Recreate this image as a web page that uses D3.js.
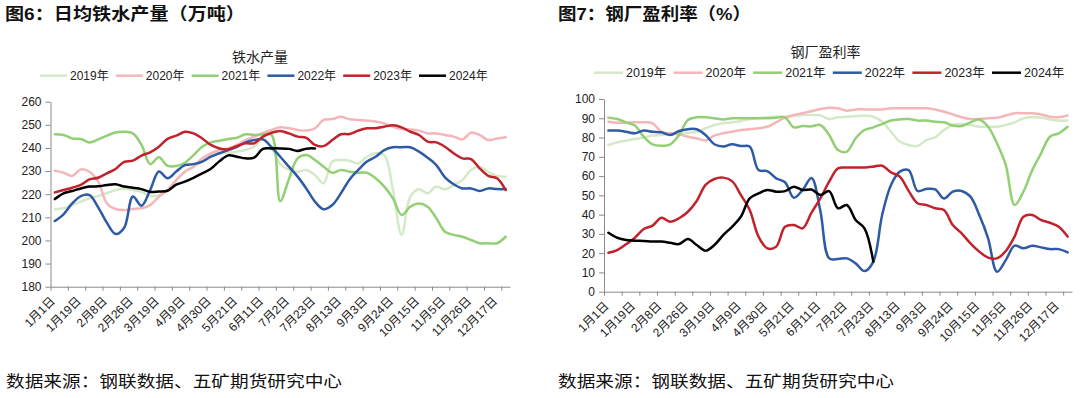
<!DOCTYPE html>
<html><head><meta charset="utf-8">
<script src="https://cdn.jsdelivr.net/npm/d3@7"></script>
<style>
html,body{margin:0;padding:0;background:#fff;}
svg{display:block;}
text{font-family:"Liberation Sans","Noto Sans CJK SC",sans-serif;}
</style></head>
<body>
<svg id="c" width="1080" height="398"></svg>
<script>
// ---------- data ----------
const categories = ["1月1日","1月7日","1月13日","1月19日","1月26日","2月2日","2月8日","2月14日","2月20日","2月26日","3月5日","3月12日","3月19日","3月26日","4月2日","4月9日","4月16日","4月23日","4月30日","5月7日","5月14日","5月21日","5月28日","6月4日","6月11日","6月18日","6月25日","7月2日","7月9日","7月16日","7月23日","7月30日","8月6日","8月13日","8月20日","8月27日","9月3日","9月10日","9月17日","9月24日","10月1日","10月8日","10月15日","10月22日","10月29日","11月5日","11月12日","11月19日","11月26日","12月3日","12月10日","12月17日","12月24日"];
const years = ["2019年","2020年","2021年","2022年","2023年","2024年"];
const yearColors = ["#d4e9c7","#f4b6b8","#93cf75","#2f5aa5","#c0232c","#000000"];

// 铁水产量 (万吨)
const iron2019 = [213.5,213.9,215.3,216.8,218.2,219.2,220.4,221.8,222.5,221.8,221.0,219.2,219.6,221.8,226.1,229.7,231.9,234.1,236.9,237.7,238.0,238.4,239.1,240.5,244.0,240.0,233.0,230.5,229.7,230.5,228.3,224.7,234.1,234.8,234.5,233.3,236.2,237.7,236.9,221.8,202.4,218.9,222.1,220.4,223.3,222.1,224.0,226.1,230.5,231.9,229.7,227.9,227.6];
const iron2020 = [230.2,229.3,227.9,230.7,229.7,225.4,216.0,213.6,213.2,213.6,213.9,215.3,218.9,221.8,226.1,229.7,231.9,235.5,237.7,239.1,239.8,241.3,243.4,244.9,246.5,247.8,248.9,248.5,247.8,247.5,248.5,252.1,252.5,253.5,252.4,252.1,251.8,251.4,250.6,249.2,248.2,248.0,247.5,246.3,246.3,245.6,244.9,243.7,246.6,245.6,243.4,244.1,244.6];
const iron2021 = [245.9,245.6,244.1,243.9,242.4,243.7,245.3,246.7,247.0,246.3,241.3,233.0,236.0,232.3,232.2,233.6,236.9,240.5,242.4,243.1,243.9,244.4,245.9,245.6,245.9,245.6,217.0,226.5,235.5,236.9,234.8,231.9,229.3,230.5,229.7,229.3,229.3,226.9,223.3,218.2,211.0,214.6,216.0,214.6,209.6,203.8,202.4,201.6,200.2,198.8,198.8,198.8,201.6];
const iron2022 = [208.4,211.3,216.0,219.2,219.6,214.3,207.7,202.8,205.5,219.0,215.0,221.8,229.8,226.9,229.8,232.6,233.0,234.1,236.2,237.7,239.1,240.5,242.4,243.4,243.7,240.3,236.2,231.9,227.6,222.5,216.8,213.5,215.3,220.4,226.4,230.5,234.1,236.2,239.1,240.3,240.3,240.3,238.4,235.8,232.6,227.3,224.3,222.5,222.5,221.4,222.5,222.2,222.2];
const iron2023 = [220.8,221.8,222.8,224.0,226.4,227.1,229.0,230.9,234.0,234.5,236.7,238.1,240.5,243.9,245.3,247.0,246.3,244.1,241.3,239.8,239.4,240.8,242.0,242.0,244.9,246.6,247.3,246.3,244.9,244.4,241.3,240.8,243.4,245.9,246.0,247.5,248.5,248.5,249.2,249.8,248.9,247.0,245.6,242.7,242.4,240.5,237.7,235.5,235.2,231.2,227.9,226.9,221.8];
const iron2024 = [217.9,220.4,221.4,222.5,223.3,223.4,224.0,224.3,223.3,222.8,222.2,221.0,221.2,221.5,224.1,225.4,227.1,229.0,231.0,234.3,236.8,236.2,235.5,235.8,239.6,239.8,239.8,239.6,238.7,239.7,239.8];

// 钢厂盈利率 (%)
const profit2019 = [76.1,77.5,78.4,79.2,80.1,81.0,81.3,81.8,81.8,82.5,83.0,84.8,86.5,87.4,87.9,88.6,89.6,90.0,90.5,90.8,90.8,91.3,91.7,91.7,91.5,89.6,90.5,90.8,91.2,91.3,90.8,88.2,83.0,77.9,76.1,75.6,78.7,80.1,83.9,86.5,87.0,86.5,85.6,85.6,85.6,86.5,87.9,90.0,90.5,90.3,89.4,88.8,88.8];
const profit2020 = [88.2,87.7,87.7,87.9,87.9,87.4,83.0,82.2,81.7,80.4,79.5,78.5,81.0,82.2,83.0,83.9,84.3,84.8,85.6,87.9,90.3,91.7,92.6,93.6,94.8,95.5,95.2,93.9,94.6,94.6,94.6,94.6,95.2,95.2,95.2,95.2,95.2,94.6,93.4,92.0,90.5,89.6,89.6,90.0,90.3,91.4,92.6,92.6,92.6,92.0,90.8,90.5,91.4];
const profit2021 = [90.3,89.6,87.9,86.2,80.4,76.5,75.8,76.5,81.3,89.1,90.5,90.5,90.0,89.4,90.0,90.0,90.0,90.0,90.0,90.3,90.5,85.3,86.0,85.8,86.5,81.3,73.5,72.7,79.6,83.9,85.3,87.0,88.8,89.4,89.6,88.8,88.8,88.2,87.9,86.2,86.0,87.9,89.4,85.6,77.0,65.7,45.0,51.9,63.1,71.8,80.4,82.2,85.6];
const profit2022 = [83.6,83.6,83.0,82.2,83.6,83.0,82.7,81.3,83.4,84.3,84.3,81.3,76.5,75.3,76.5,75.6,75.3,63.1,62.6,58.8,56.8,48.8,52.8,59.0,42.0,17.3,17.0,17.3,14.7,10.7,15.6,39.8,55.4,62.3,63.1,52.3,53.3,53.1,48.4,51.9,52.3,49.3,39.8,27.7,10.4,16.4,23.9,22.5,23.9,23.0,22.1,22.1,20.4];
const profit2023 = [20.2,21.6,24.6,28.0,32.5,34.3,38.4,36.3,38.1,41.5,47.1,55.4,58.5,59.2,57.4,50.2,42.4,28.6,22.5,23.4,33.7,34.6,32.9,41.0,48.4,57.1,64.0,64.4,64.4,64.5,64.9,65.4,61.9,59.7,52.3,45.9,45.0,43.3,42.4,34.6,30.3,25.1,20.8,17.7,17.3,21.1,28.6,38.9,39.8,37.2,35.8,33.7,28.6];
const profit2024 = [30.6,28.0,26.8,26.5,26.3,26.0,26.0,25.4,24.7,27.3,24.2,21.3,24.2,29.4,33.7,38.9,48.4,51.0,52.8,51.9,52.2,54.5,52.8,53.0,50.2,52.2,43.3,45.0,37.2,32.9,15.6];

const ironTicks = [180,190,200,210,220,230,240,250,260];
const profitTicks = [0,10,20,30,40,50,60,70,80,90,100];

// ---------- drawing ----------
const svg = d3.select("#c");
const AXIS = "#8a8a8a";

function drawChart(o){
  const g = svg.append("g");
  const N = categories.length;
  const xp = d3.scalePoint().domain(d3.range(N)).range([o.x0, o.x1]).padding(0.5);
  const xb = d3.scaleLinear().domain([0, N]).range([o.x0, o.x1]);
  const y = d3.scaleLinear().domain(o.yDomain).range([o.yBottom, o.yTop]);

  // chart title
  g.append("text").attr("x", o.titleX).attr("y", o.titleY)
    .attr("text-anchor","middle").attr("font-size", 14).attr("fill","#222")
    .text(o.title);

  // legend
  years.forEach((yr, k) => {
    const lx = o.legX + k * o.legStep;
    g.append("line").attr("x1", lx).attr("x2", lx + o.legLine)
      .attr("y1", o.legY).attr("y2", o.legY)
      .attr("stroke", yearColors[k]).attr("stroke-width", 2.5);
    g.append("text").attr("x", lx + o.legLine + 3).attr("y", o.legY)
      .attr("dy","0.36em").attr("font-size", o.legFont).attr("fill","#222").text(yr);
  });

  // y axis
  const ya = g.append("g").attr("transform", `translate(${o.x0},0)`)
    .call(d3.axisLeft(y).tickValues(o.ticks).tickSize(5).tickSizeOuter(0).tickPadding(4));
  ya.select(".domain").attr("stroke", AXIS);
  ya.selectAll(".tick line").attr("stroke", AXIS);
  ya.selectAll(".tick text").attr("font-size", 12).attr("fill","#222")
    .attr("font-family",'"Liberation Sans",sans-serif');

  // x axis: tick marks every 2 categories
  const xa = g.append("g").attr("transform", `translate(0,${o.yBottom})`)
    .call(d3.axisBottom(xb).tickValues(d3.range(0, N, 2)).tickSize(4).tickSizeOuter(0).tickFormat(""));
  xa.select(".domain").attr("stroke", AXIS);
  xa.selectAll(".tick line").attr("stroke", AXIS);

  // category labels every 3 categories
  const lab = g.append("g");
  lab.selectAll("text").data(d3.range(0, N, 3)).join("text")
    .attr("transform", i => `translate(${xp(i) + o.labDX},${o.yBottom + o.labDY}) rotate(-45)`)
    .attr("text-anchor","end").attr("dy","0.35em")
    .attr("font-size", 12).attr("fill","#222")
    .text(i => categories[i]);

  // lines
  const line = d3.line().x((d,i) => xp(i)).y(d => y(d)).curve(d3.curveCatmullRom.alpha(0.5));
  o.series.forEach((s, k) => {
    g.append("path").attr("d", line(s)).attr("fill","none")
      .attr("stroke", yearColors[k]).attr("stroke-width", 2.5)
      .attr("stroke-linejoin","round").attr("stroke-linecap","round");
  });
}

drawChart({
  x0: 50.5, x1: 510, yTop: 101.7, yBottom: 286.7, yDomain: [180, 260], ticks: ironTicks,
  title: "铁水产量", titleX: 260, titleY: 62,
  legX: 40, legStep: 75.8, legLine: 27, legY: 75.7, legFont: 12,
  labDX: -2, labDY: 12,
  series: [iron2019, iron2020, iron2021, iron2022, iron2023, iron2024]
});
drawChart({
  x0: 604, x1: 1072, yTop: 99, yBottom: 291.7, yDomain: [0, 100], ticks: profitTicks,
  title: "钢厂盈利率", titleX: 825.5, titleY: 57,
  legX: 594, legStep: 79.6, legLine: 29, legY: 72.7, legFont: 12.5,
  labDX: -2, labDY: 12,
  series: [profit2019, profit2020, profit2021, profit2022, profit2023, profit2024]
});

// figure titles and sources
const head = [
  {t:"图6：日均铁水产量（万吨）", x:5, w:240},
  {t:"图7：钢厂盈利率（%）", x:558, w:193}
];
head.forEach(h => svg.append("text").attr("x", h.x).attr("y", 20)
  .attr("font-size", 17).attr("font-weight", 700).attr("fill","#111")
  .attr("font-family",'"Noto Sans CJK SC",sans-serif')
  .attr("textLength", h.w).attr("lengthAdjust","spacingAndGlyphs").text(h.t));
[{x:6},{x:558}].forEach(f => svg.append("text").attr("x", f.x).attr("y", 387)
  .attr("font-size", 16).attr("fill","#111")
  .attr("font-family",'"Noto Sans CJK SC",sans-serif')
  .attr("textLength", 336).attr("lengthAdjust","spacingAndGlyphs")
  .text("数据来源：钢联数据、五矿期货研究中心"));
</script>
</body></html>
